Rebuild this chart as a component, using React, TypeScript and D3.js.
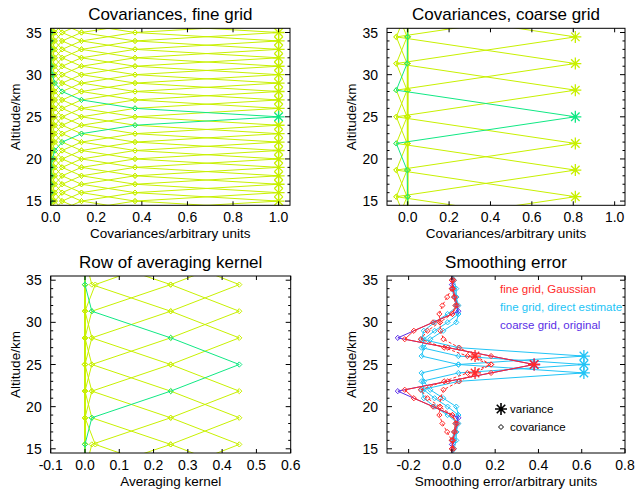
import React from "react";
import * as d3 from "d3";

const W = 636;
const H = 489;

// altitude grids, km
const fineAlt = [10, 11, 12, 13, 14, 15, 16, 17, 18, 19, 20, 21, 22, 23, 24, 25, 26, 27, 28, 29, 30, 31, 32, 33, 34, 35, 36, 37, 38, 39, 40];
const coarseAlt = [9.2, 12.36, 15.52, 18.68, 21.84, 25, 28.16, 31.32, 34.48, 37.64, 40.8];
const smoothAlt = [15, 16, 17, 18, 19, 20, 21, 22, 23, 24, 25, 26, 27, 28, 29, 30, 31, 32, 33, 34, 35];
const highlightAlt = 25;

// covariance / kernel value by distance from the diagonal
const fineCovLag = [1.0, 0.37, 0.135, 0.05, 0.018, 0.007, 0.0025, 0.001];
const coarseCovLag = [0.81, -0.055, -0.003, 0];
const kernelLag = [0.45, 0.25, 0.02, 0];
const kernelEdgeLag = [0.45, 0.25, 0.03, 0];

// smoothing error rows (fine grid 15..35 km)
const gaussRow24 = [0.008, -0.001, -0.022, -0.044, -0.058, -0.055, -0.053, -0.039, 0.034, 0.107, 0.181, 0.072, -0.036, -0.144, -0.113, -0.056, 0.002, 0.016, 0.01, 0.003, 0];
const gaussRow25 = [0, 0.005, 0.014, 0.024, 0.002, -0.087, -0.176, -0.218, -0.019, 0.181, 0.38, 0.181, -0.019, -0.218, -0.176, -0.087, 0.002, 0.024, 0.014, 0.005, 0];
const gaussRow26 = [0, 0.003, 0.01, 0.016, 0.002, -0.056, -0.113, -0.144, -0.036, 0.072, 0.181, 0.107, 0.034, -0.039, -0.053, -0.055, -0.058, -0.044, -0.022, -0.001, 0.008];
const directRow24 = [0.0, 0.01, 0.02, 0.02, 0.03, -0.02, -0.08, -0.13, -0.14, 0.03, 0.61, 0.03, -0.14, -0.13, -0.1, -0.04, 0.02, 0.03, 0.02, 0.01, 0.0];
const directRow25 = [0.0, 0.01, 0.02, 0.02, 0.03, -0.02, -0.08, -0.13, -0.14, 0.03, 0.61, 0.03, -0.14, -0.13, -0.08, -0.02, 0.03, 0.02, 0.02, 0.01, 0.0];
const directRow26 = [0.0, 0.01, 0.02, 0.03, 0.02, -0.04, -0.1, -0.13, -0.14, 0.03, 0.61, 0.03, -0.14, -0.13, -0.08, -0.02, 0.03, 0.02, 0.02, 0.01, 0.0];
const directAltShift = [-1, 0, 1];
const coarseOrigRow = [0, 0, 0, 0.03, -0.25, 0.38, -0.25, 0.03, 0, 0, 0];

const legendLabels = ["fine grid, Gaussian", "fine grid, direct estimate", "coarse grid, original"];

const yTicks = [15, 20, 25, 30, 35];
const yMinor = [16, 17, 18, 19, 21, 22, 23, 24, 26, 27, 28, 29, 31, 32, 33, 34];
const fineTicks = [0, 0.2, 0.4, 0.6, 0.8, 1.0];
const kernelTicks = [-0.1, 0, 0.1, 0.2, 0.3, 0.4, 0.5, 0.6];
const smoothTicks = [-0.2, 0, 0.2, 0.4, 0.6, 0.8];

const YELLOW = "#c8f000";
const GREEN = "#10e884";
const RED = "#ff2a2a";
const CYAN = "#22c4f6";
const PURPLE = "#5a2ee6";
const FONT = "Liberation Sans, Arial, Helvetica, sans-serif";

type Line = {
  alt: number[];
  x: number[];
  color: string;
  dash?: string;
  star?: number;
};

function rowsFromLags(grid: number[], lagFor: (i: number) => number[], color: (i: number) => string): Line[] {
  return grid.map((a, i) => {
    const lags = lagFor(i);
    return {
      alt: grid,
      x: grid.map((_, j) => lags[Math.abs(i - j)] ?? 0),
      color: color(i),
      star: i,
    };
  });
}

const hl = (g: number[]) => (i: number) => (Math.abs(g[i] - highlightAlt) < 0.01 ? GREEN : YELLOW);
const sortHl = (lines: Line[]) => [...lines.filter((l) => l.color !== GREEN), ...lines.filter((l) => l.color === GREEN)];

const panel1Lines = sortHl(rowsFromLags(fineAlt, () => fineCovLag, hl(fineAlt)));
const panel2Lines = sortHl(rowsFromLags(coarseAlt, () => coarseCovLag, hl(coarseAlt)));
const panel3Lines = sortHl(
  rowsFromLags(coarseAlt, (i) => (i === 0 || i === coarseAlt.length - 1 ? kernelEdgeLag : kernelLag), hl(coarseAlt)).map(
    (l) => ({ ...l, star: undefined })
  )
);

const panel4Lines: Line[] = [
  ...[directRow24, directRow25, directRow26].map((r, k) => ({
    alt: smoothAlt.map((a) => a + directAltShift[k]),
    x: r,
    color: CYAN,
    star: 10,
  })),
  { alt: coarseAlt, x: coarseOrigRow, color: PURPLE, star: 5 },
  { alt: smoothAlt, x: gaussRow24, color: RED, dash: "3,2", star: 9 },
  { alt: smoothAlt, x: gaussRow26, color: RED, dash: "3,2", star: 11 },
  { alt: smoothAlt, x: gaussRow25, color: RED, star: 10 },
];

const diamond = (r: number) => `M0,${-r}L${r},0L0,${r}L${-r},0Z`;
const asterisk = (r: number) => {
  const d = r * 0.7071;
  return `M${-r},0L${r},0M0,${-r}L0,${r}M${-d},${-d}L${d},${d}M${-d},${d}L${d},${-d}`;
};

type PanelProps = {
  id: string;
  box: [number, number, number, number];
  xDomain: [number, number];
  xTicks: number[];
  title: string;
  xLabel: string;
  lines: Line[];
  children?: React.ReactNode;
};

function Panel({ id, box, xDomain, xTicks, title, xLabel, lines, children }: PanelProps) {
  const [x0, x1, y0, y1] = box;
  const x = d3.scaleLinear().domain(xDomain).range([x0, x1]);
  const y = d3.scaleLinear().domain([14.5, 35.5]).range([y1, y0]);
  const line = d3
    .line<[number, number]>()
    .x((d) => x(d[0]))
    .y((d) => y(d[1]));
  const fmt = (v: number) => d3.format(".1f")(v).replace("\u2212", "-");
  const cx = (x0 + x1) / 2;
  const cy = (y0 + y1) / 2;
  return (
    <g fontFamily={FONT}>
      <defs>
        <clipPath id={id}>
          <rect x={x0} y={y0} width={x1 - x0} height={y1 - y0} />
        </clipPath>
      </defs>
      <g clipPath={`url(#${id})`}>
        {lines.map((l, i) => {
          const pts = l.alt.map((a, j) => [l.x[j], a] as [number, number]);
          return (
            <g key={i} stroke={l.color} fill="none" strokeWidth={1}>
              <path d={line(pts) ?? ""} strokeDasharray={l.dash} />
              {pts.map((p, j) =>
                j === l.star ? (
                  <path key={j} d={asterisk(6)} transform={`translate(${x(p[0])},${y(p[1])})`} strokeWidth={1.3} />
                ) : (
                  <path key={j} d={diamond(2.6)} transform={`translate(${x(p[0])},${y(p[1])})`} />
                )
              )}
            </g>
          );
        })}
      </g>
      <rect x={x0} y={y0} width={x1 - x0} height={y1 - y0} fill="none" stroke="#000" strokeWidth={1} />
      <g stroke="#000" strokeWidth={1}>
        {yTicks.map((t) => (
          <g key={t}>
            <line x1={x0} x2={x0 + 5} y1={y(t)} y2={y(t)} />
            <line x1={x1} x2={x1 - 5} y1={y(t)} y2={y(t)} />
          </g>
        ))}
        {yMinor.map((t) => (
          <g key={t}>
            <line x1={x0} x2={x0 + 2.5} y1={y(t)} y2={y(t)} />
            <line x1={x1} x2={x1 - 2.5} y1={y(t)} y2={y(t)} />
          </g>
        ))}
        {xTicks.map((t) => (
          <g key={t}>
            <line x1={x(t)} x2={x(t)} y1={y1} y2={y1 - 4} />
            <line x1={x(t)} x2={x(t)} y1={y0} y2={y0 + 4} />
          </g>
        ))}
      </g>
      <g fontSize={14} fill="#000">
        {yTicks.map((t) => (
          <text key={t} x={x0 - 9} y={y(t) + 5} textAnchor="end">
            {t}
          </text>
        ))}
        {xTicks.map((t) => (
          <text key={t} x={x(t)} y={y1 + 17} textAnchor="middle">
            {fmt(t)}
          </text>
        ))}
      </g>
      <text x={cx} y={y0 - 8} textAnchor="middle" fontSize={17}>
        {title}
      </text>
      <text x={cx} y={y1 + 33} textAnchor="middle" fontSize={13.5}>
        {xLabel}
      </text>
      <text transform={`translate(${x0 - 31},${cy}) rotate(-90)`} textAnchor="middle" fontSize={13.5}>
        Altitude/km
      </text>
      {children}
    </g>
  );
}

export default function App() {
  const legendColors = [RED, CYAN, PURPLE];
  return (
    <svg width={W} height={H} style={{ position: "absolute", left: 0, top: 0, background: "#fff" }}>
      <rect width={W} height={H} fill="#fff" />
      <Panel
        id="c1"
        box={[50.7, 290, 28.3, 205.3]}
        xDomain={[0, 1.05]}
        xTicks={fineTicks}
        title="Covariances, fine grid"
        xLabel="Covariances/arbitrary units"
        lines={panel1Lines}
      />
      <Panel
        id="c2"
        box={[387, 625, 28.3, 205.3]}
        xDomain={[-0.1, 1.05]}
        xTicks={fineTicks}
        title="Covariances, coarse grid"
        xLabel="Covariances/arbitrary units"
        lines={panel2Lines}
      />
      <Panel
        id="c3"
        box={[50.7, 290.7, 276, 453]}
        xDomain={[-0.1, 0.6]}
        xTicks={kernelTicks}
        title="Row of averaging kernel"
        xLabel="Averaging kernel"
        lines={panel3Lines}
      />
      <Panel
        id="c4"
        box={[387, 625, 276, 453]}
        xDomain={[-0.3, 0.8]}
        xTicks={smoothTicks}
        title="Smoothing error"
        xLabel="Smoothing error/arbitrary units"
        lines={panel4Lines}
      >
        <g fontFamily={FONT} fontSize={11.5}>
          {legendLabels.map((s, i) => (
            <text key={s} x={500} y={292.5 + i * 18} fill={legendColors[i]}>
              {s}
            </text>
          ))}
          <path d={asterisk(6)} transform="translate(501,409)" stroke="#000" strokeWidth={1.6} fill="none" />
          <text x={510} y={413}>variance</text>
          <path d={diamond(2.5)} transform="translate(501,427)" stroke="#000" fill="none" />
          <text x={510} y={431}>covariance</text>
        </g>
      </Panel>
    </svg>
  );
}
